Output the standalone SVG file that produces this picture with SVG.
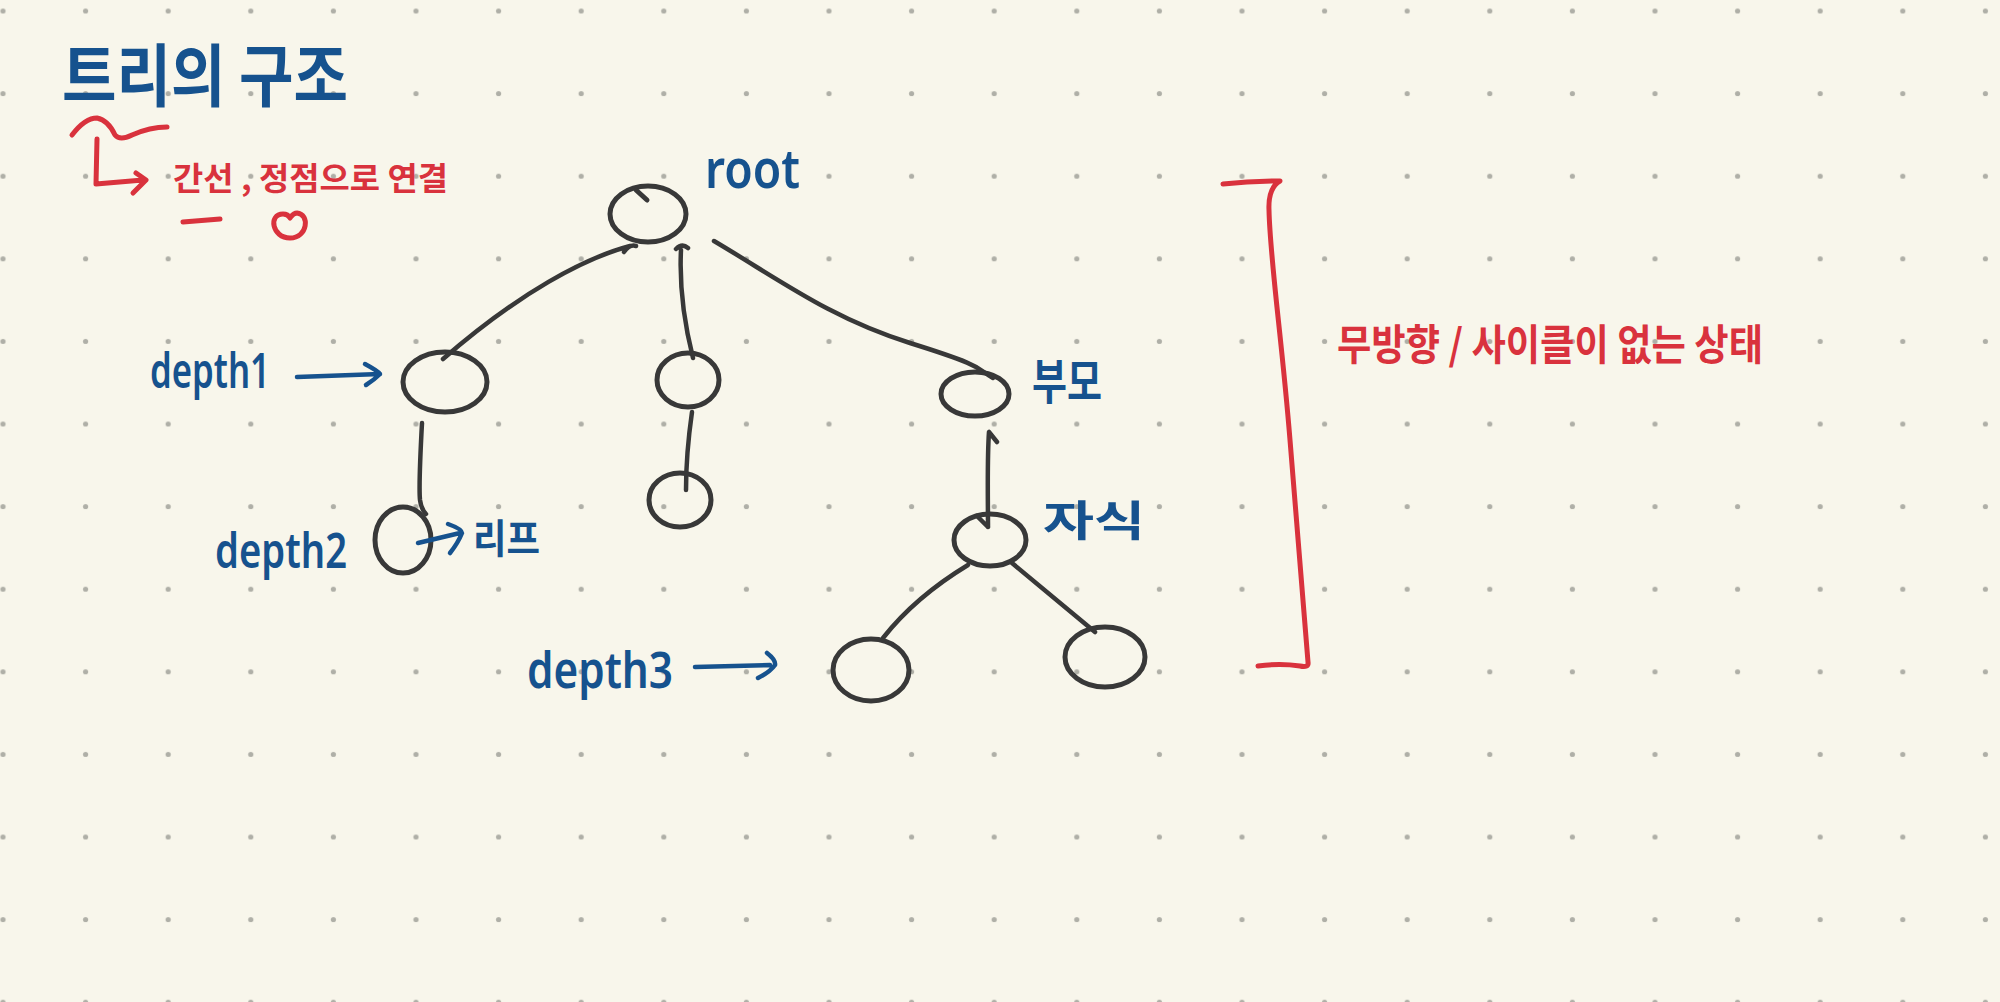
<svg xmlns="http://www.w3.org/2000/svg" width="2000" height="1002" viewBox="0 0 2000 1002">
<defs>
<pattern id="dots" patternUnits="userSpaceOnUse" x="-38.3" y="-30.3" width="82.6" height="82.6">
<circle cx="41.3" cy="41.3" r="2.6" fill="#afafa7"/>
</pattern>
<style>
.node{fill:none;stroke:#383838;stroke-width:5;stroke-linecap:round;stroke-linejoin:round}
.edge{fill:none;stroke:#383838;stroke-width:4.5;stroke-linecap:round;stroke-linejoin:round}
.blue{fill:none;stroke:#16528e;stroke-width:4.5;stroke-linecap:round;stroke-linejoin:round}
.red{fill:none;stroke:#d9323d;stroke-width:5;stroke-linecap:round;stroke-linejoin:round}
.kb{font-family:"Noto Sans CJK KR","Noto Sans",sans-serif;font-weight:700;fill:#16528e}
.kr{font-family:"Noto Sans CJK KR","Noto Sans",sans-serif;font-weight:700;fill:#d9323d}
.lb{font-family:"Noto Sans","Liberation Sans",sans-serif;font-weight:600;fill:#16528e}
</style>
</defs>
<rect width="2000" height="1002" fill="#f8f6eb"/>
<rect width="2000" height="1002" fill="url(#dots)"/>

<g id="title">
<text class="kb" x="62" y="101" font-size="68" textLength="286" lengthAdjust="spacingAndGlyphs">트리의 구조</text>
<path class="red" d="M72,135 Q85,118 97,118 Q108,120 115,135 Q120,141 132,135 Q150,127 167,127"/>
<path class="red" d="M97,139 L96,184 L143,180 M136,173 L146,180 L133,193"/>
<text class="kr" x="173" y="190" font-size="32" textLength="275" lengthAdjust="spacingAndGlyphs">간선 , 정점으로 연결</text>
<path class="red" d="M183,222 L220,219"/>
<path class="red" d="M283,214 C268,214 272,238 290,238 C308,238 310,214 297,213 C293,213 291,217 290,218 C289,216 287,214 283,214 Z"/>
</g>

<g id="connectors">
<path class="edge" d="M624,252 Q630,244 636,246 M630,246 C585,258 520,292 443,359"/>
<path class="edge" d="M676,249 Q682,243 688,248 M681,250 C679,290 686,330 693,358"/>
<path class="edge" d="M714,241 C780,280 830,318 910,343 S975,368 993,378"/>
<path class="edge" d="M422,423 C420,460 419,490 420,500 C421,508 424,512 426,514"/>
<path class="edge" d="M692,412 C688,440 686,470 686,490" stroke-width="6"/>
<path class="edge" d="M997,442 L989,432 C987,460 988,500 988,527 M977,516 L988,527"/>
<path class="edge" d="M968,565 C935,585 905,610 883,638"/>
<path class="edge" d="M1012,563 L1095,632"/>
</g>

<g id="node-root">
<ellipse class="node" cx="648" cy="214" rx="38" ry="28"/>
<path class="node" d="M636,190 L647,200"/>
<text class="lb" x="705" y="188" font-size="54" textLength="95" lengthAdjust="spacingAndGlyphs">root</text>
</g>
<g id="node-left">
<ellipse class="node" cx="445" cy="382" rx="42" ry="30"/>
</g>
<g id="node-middle">
<ellipse class="node" cx="688" cy="380" rx="31" ry="27"/>
</g>
<g id="node-parent">
<ellipse class="node" cx="975" cy="394" rx="34" ry="22"/>
<text class="kb" x="1032" y="399" font-size="48" textLength="70" lengthAdjust="spacingAndGlyphs">부모</text>
</g>
<g id="node-leaf">
<ellipse class="node" cx="403" cy="540" rx="28" ry="33"/>
<path class="blue" d="M418,543 L460,533 M448,524 Q462,529 462,533 Q458,543 450,553"/>
<text class="kb" x="473" y="553" font-size="40" textLength="67" lengthAdjust="spacingAndGlyphs">리프</text>
</g>
<g id="node-middle-leaf">
<ellipse class="node" cx="680" cy="500" rx="31" ry="27"/>
</g>
<g id="node-child">
<ellipse class="node" cx="990" cy="540" rx="36" ry="26"/>
<text class="kb" x="1043" y="536" font-size="42" textLength="102" lengthAdjust="spacingAndGlyphs">자식</text>
</g>
<g id="node-child-left">
<ellipse class="node" cx="871" cy="670" rx="38" ry="31"/>
</g>
<g id="node-child-right">
<ellipse class="node" cx="1105" cy="657" rx="40" ry="30"/>
</g>

<g id="depth-labels">
<text class="lb" x="150" y="388" font-size="48" textLength="120" lengthAdjust="spacingAndGlyphs">depth1</text>
<path class="blue" d="M297,377 L380,374 M365,364 Q378,371 380,374 Q374,380 366,385"/>
<text class="lb" x="215" y="568" font-size="48" textLength="132" lengthAdjust="spacingAndGlyphs">depth2</text>
<text class="lb" x="527" y="688" font-size="50" textLength="146" lengthAdjust="spacingAndGlyphs">depth3</text>
<path class="blue" d="M695,667 L770,665 M767,653 Q776,660 775,665 Q770,672 758,678"/>
</g>

<g id="note">
<path class="red" d="M1223,184 Q1250,181 1280,181 Q1268,188 1269,210 C1270,260 1282,340 1290,440 C1298,540 1304,620 1308,662 Q1309,668 1300,666 Q1280,663 1258,666"/>
<text class="kr" x="1337" y="360" font-size="42" textLength="426" lengthAdjust="spacingAndGlyphs">무방향 / 사이클이 없는 상태</text>
</g>
</svg>
